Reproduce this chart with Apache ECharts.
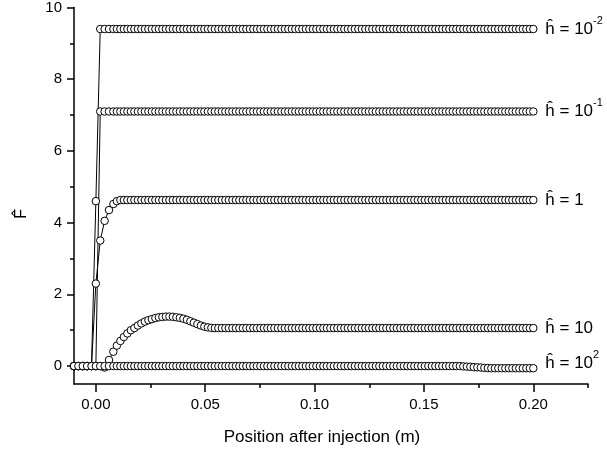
<!DOCTYPE html>
<html><head><meta charset="utf-8">
<script src="https://cdn.jsdelivr.net/npm/echarts@6/dist/echarts.min.js"></script>
<style>html,body{margin:0;padding:0;background:#fff}#c{width:607px;height:451px}</style>
</head><body><div id="c"></div>
<script>
// x positions (m)
const positions = [
-0.010,-0.008,-0.006,-0.004,-0.002,0.000,0.002,0.004,0.006,0.008,
0.0096,0.0112,0.0128,0.0144,0.016,0.0176,0.0192,0.0208,0.0224,0.024,
0.0256,0.0272,0.0288,0.0304,0.032,0.0336,0.0352,0.0368,0.0384,0.04,
0.0416,0.0432,0.0448,0.0464,0.048,0.0496,0.0512,0.0528,0.0544,0.056,
0.0576,0.0592,0.0608,0.0624,0.064,0.0656,0.0672,0.0688,0.0704,0.072,
0.0736,0.0752,0.0768,0.0784,0.08,0.0816,0.0832,0.0848,0.0864,0.088,
0.0896,0.0912,0.0928,0.0944,0.096,0.0976,0.0992,0.1008,0.1024,0.104,
0.1056,0.1072,0.1088,0.1104,0.112,0.1136,0.1152,0.1168,0.1184,0.12,
0.1216,0.1232,0.1248,0.1264,0.128,0.1296,0.1312,0.1328,0.1344,0.136,
0.1376,0.1392,0.1408,0.1424,0.144,0.1456,0.1472,0.1488,0.1504,0.152,
0.1536,0.1552,0.1568,0.1584,0.16,0.1616,0.1632,0.1648,0.1664,0.168,
0.1696,0.1712,0.1728,0.1744,0.176,0.1776,0.1792,0.1808,0.1824,0.184,
0.1856,0.1872,0.1888,0.1904,0.192,0.1936,0.1952,0.1968,0.1984,0.2];
// h = 10^-2
const hEm2 = [
0,0,0,0,0,4.6,9.4,9.4,9.4,9.4,
9.4,9.4,9.4,9.4,9.4,9.4,9.4,9.4,9.4,9.4,
9.4,9.4,9.4,9.4,9.4,9.4,9.4,9.4,9.4,9.4,
9.4,9.4,9.4,9.4,9.4,9.4,9.4,9.4,9.4,9.4,
9.4,9.4,9.4,9.4,9.4,9.4,9.4,9.4,9.4,9.4,
9.4,9.4,9.4,9.4,9.4,9.4,9.4,9.4,9.4,9.4,
9.4,9.4,9.4,9.4,9.4,9.4,9.4,9.4,9.4,9.4,
9.4,9.4,9.4,9.4,9.4,9.4,9.4,9.4,9.4,9.4,
9.4,9.4,9.4,9.4,9.4,9.4,9.4,9.4,9.4,9.4,
9.4,9.4,9.4,9.4,9.4,9.4,9.4,9.4,9.4,9.4,
9.4,9.4,9.4,9.4,9.4,9.4,9.4,9.4,9.4,9.4,
9.4,9.4,9.4,9.4,9.4,9.4,9.4,9.4,9.4,9.4,
9.4,9.4,9.4,9.4,9.4,9.4,9.4,9.4,9.4,9.4];
// h = 10^-1
const hEm1 = [
0,0,0,0,0,0,7.1,7.1,7.1,7.1,
7.1,7.1,7.1,7.1,7.1,7.1,7.1,7.1,7.1,7.1,
7.1,7.1,7.1,7.1,7.1,7.1,7.1,7.1,7.1,7.1,
7.1,7.1,7.1,7.1,7.1,7.1,7.1,7.1,7.1,7.1,
7.1,7.1,7.1,7.1,7.1,7.1,7.1,7.1,7.1,7.1,
7.1,7.1,7.1,7.1,7.1,7.1,7.1,7.1,7.1,7.1,
7.1,7.1,7.1,7.1,7.1,7.1,7.1,7.1,7.1,7.1,
7.1,7.1,7.1,7.1,7.1,7.1,7.1,7.1,7.1,7.1,
7.1,7.1,7.1,7.1,7.1,7.1,7.1,7.1,7.1,7.1,
7.1,7.1,7.1,7.1,7.1,7.1,7.1,7.1,7.1,7.1,
7.1,7.1,7.1,7.1,7.1,7.1,7.1,7.1,7.1,7.1,
7.1,7.1,7.1,7.1,7.1,7.1,7.1,7.1,7.1,7.1,
7.1,7.1,7.1,7.1,7.1,7.1,7.1,7.1,7.1,7.1];
// h = 1
const hE0 = [
0,0,0,0,0,2.3,3.5,4.05,4.35,4.52,
4.6,4.63,4.63,4.63,4.63,4.63,4.63,4.63,4.63,4.63,
4.63,4.63,4.63,4.63,4.63,4.63,4.63,4.63,4.63,4.63,
4.63,4.63,4.63,4.63,4.63,4.63,4.63,4.63,4.63,4.63,
4.63,4.63,4.63,4.63,4.63,4.63,4.63,4.63,4.63,4.63,
4.63,4.63,4.63,4.63,4.63,4.63,4.63,4.63,4.63,4.63,
4.63,4.63,4.63,4.63,4.63,4.63,4.63,4.63,4.63,4.63,
4.63,4.63,4.63,4.63,4.63,4.63,4.63,4.63,4.63,4.63,
4.63,4.63,4.63,4.63,4.63,4.63,4.63,4.63,4.63,4.63,
4.63,4.63,4.63,4.63,4.63,4.63,4.63,4.63,4.63,4.63,
4.63,4.63,4.63,4.63,4.63,4.63,4.63,4.63,4.63,4.63,
4.63,4.63,4.63,4.63,4.63,4.63,4.63,4.63,4.63,4.63,
4.63,4.63,4.63,4.63,4.63,4.63,4.63,4.63,4.63,4.63];
// h = 10
const hE1 = [
0,0,0,0,0,0,0,-0.04,0.17,0.40,
0.57,0.70,0.81,0.91,1.00,1.06,1.13,1.19,1.24,1.28,
1.31,1.34,1.36,1.37,1.38,1.38,1.375,1.36,1.345,1.32,
1.29,1.25,1.21,1.17,1.13,1.10,1.08,1.065,1.06,1.06,
1.06,1.06,1.06,1.06,1.06,1.06,1.06,1.06,1.06,1.06,
1.06,1.06,1.06,1.06,1.06,1.06,1.06,1.06,1.06,1.06,
1.06,1.06,1.06,1.06,1.06,1.06,1.06,1.06,1.06,1.06,
1.06,1.06,1.06,1.06,1.06,1.06,1.06,1.06,1.06,1.06,
1.06,1.06,1.06,1.06,1.06,1.06,1.06,1.06,1.06,1.06,
1.06,1.06,1.06,1.06,1.06,1.06,1.06,1.06,1.06,1.06,
1.06,1.06,1.06,1.06,1.06,1.06,1.06,1.06,1.06,1.06,
1.06,1.06,1.06,1.06,1.06,1.06,1.06,1.06,1.06,1.06,
1.06,1.06,1.06,1.06,1.06,1.06,1.06,1.06,1.06,1.06];
// h = 10^2
const hE2 = [
0,0,0,0,0,0,0,0,0,0,
0,0,0,0,0,0,0,0,0,0,
0,0,0,0,0,0,0,0,0,0,
0,0,0,0,0,0,0,0,0,0,
0,0,0,0,0,0,0,0,0,0,
0,0,0,0,0,0,0,0,0,0,
0,0,0,0,0,0,0,0,0,0,
0,0,0,0,0,0,0,0,0,0,
0,0,0,0,0,0,0,0,0,0,
0,0,0,0,0,0,0,0,0,0,
0,0,0,0,0,0,0,0,0,-0.01,
-0.015,-0.02,-0.03,-0.035,-0.04,-0.05,-0.055,-0.06,-0.06,-0.06,
-0.06,-0.06,-0.06,-0.06,-0.06,-0.06,-0.06,-0.06,-0.06,-0.06];

const seriesValues = [hEm2, hEm1, hE0, hE1, hE2];
const seriesBase = ['10', '10', '1', '10', '10'];
const seriesExp = ['-2', '-1', '', '', '2'];

const xMajorTicks = [0, 0.05, 0.10, 0.15, 0.20];
const xMinorTicks = [0.025, 0.075, 0.125, 0.175, 0.225];
const yMajorTicks = [0, 2, 4, 6, 8, 10];
const yMinorTicks = [1, 3, 5, 7, 9];

const FONT = 'Liberation Sans, Arial, Helvetica, sans-serif';
const chart = echarts.init(document.getElementById('c'), null, {renderer: 'canvas'});

const axisLineStyle = {color: '#000', width: 1.5};
const series = seriesValues.map((vals, k) => ({
  type: 'line',
  xAxisIndex: 0, yAxisIndex: 0,
  data: positions.map((x, i) => [x, vals[i]]),
  symbol: 'circle',
  symbolSize: 7.5,
  showAllSymbol: true,
  clip: false,
  lineStyle: {color: '#000', width: 1},
  itemStyle: {color: '#fff', borderColor: '#000', borderWidth: 1},
  emphasis: {disabled: true},
  endLabel: {
    show: true,
    distance: 12,
    offset: k === 4 ? [0, -5] : [0, 0],
    formatter: () => '{h|ĥ = ' + seriesBase[k] + '}' + (seriesExp[k] ? '{s|' + seriesExp[k] + '}' : ''),
    rich: {
      h: {fontSize: 17, fontFamily: FONT, color: '#000', lineHeight: 28},
      s: {fontSize: 11, fontFamily: FONT, color: '#000', lineHeight: 11, verticalAlign: 'top'}
    }
  }
}));

chart.setOption({
  animation: false,
  backgroundColor: '#fff',
  grid: {left: 74, right: 19, top: 6, bottom: 67, containLabel: false},
  xAxis: [{
    type: 'value', min: -0.01, max: 0.225, position: 'bottom',
    name: 'Position after injection (m)', nameLocation: 'middle', nameGap: 45,
    nameTextStyle: {fontSize: 17, fontFamily: FONT, color: '#000', padding: [0, 18, 0, 0]},
    axisLine: {show: true, onZero: false, lineStyle: axisLineStyle},
    axisTick: {show: true, inside: false, length: 8, lineStyle: axisLineStyle, customValues: xMajorTicks},
    axisLabel: {show: true, margin: 13, fontSize: 15, fontFamily: FONT, color: '#000', customValues: xMajorTicks,
      formatter: v => v.toFixed(2)},
    splitLine: {show: false}
  }, {
    type: 'value', min: -0.01, max: 0.225, position: 'bottom',
    axisLine: {show: false, onZero: false},
    axisTick: {show: true, inside: false, length: 4, lineStyle: axisLineStyle, customValues: xMinorTicks},
    axisLabel: {show: false},
    splitLine: {show: false}
  }],
  yAxis: [{
    type: 'value', min: -0.5, max: 10, position: 'left',
    name: 'F\u0302', nameLocation: 'middle', nameGap: 44, nameRotate: 90,
    nameTextStyle: {fontSize: 16, fontFamily: FONT, color: '#000', padding: [0, 36, 0, 0]},
    axisLine: {show: true, onZero: false, lineStyle: axisLineStyle},
    axisTick: {show: true, inside: false, length: 7, lineStyle: axisLineStyle, customValues: yMajorTicks},
    axisLabel: {show: true, margin: 12, fontSize: 15, fontFamily: FONT, color: '#000', customValues: yMajorTicks},
    splitLine: {show: false}
  }, {
    type: 'value', min: -0.5, max: 10, position: 'left',
    axisLine: {show: false, onZero: false},
    axisTick: {show: true, inside: false, length: 4, lineStyle: axisLineStyle, customValues: yMinorTicks},
    axisLabel: {show: false},
    splitLine: {show: false}
  }],
  series: series
});
</script>
</body></html>
